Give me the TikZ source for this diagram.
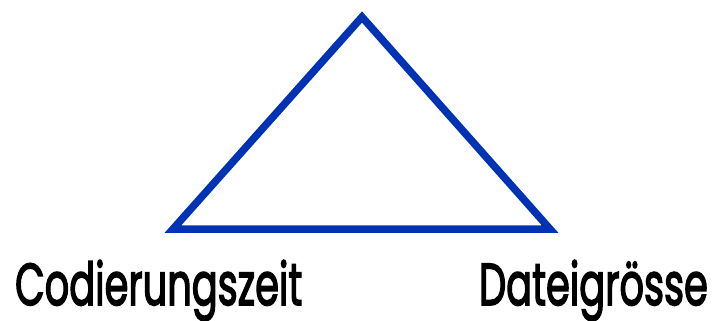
\documentclass[tikz,border=0pt]{standalone}
\usepackage{fontspec}
\setmainfont{Poppins}
\newfontfamily\labelfont{Poppins}[FakeBold=3]
\usetikzlibrary{positioning}
\definecolor{triblue}{HTML}{0033B3}

\begin{document}
\begin{tikzpicture}[
  x=1pt, y=-1pt,
  side/.style={draw=triblue, line width=7.5pt, line join=miter},
  label/.style={inner sep=0pt, text depth=0pt, font=\fontsize{59}{61}\labelfont, xscale=0.65}
]
\useasboundingbox (0,0) rectangle (713,321);
\coordinate (top) at (362,17);
\coordinate (left) at (173,229);
\coordinate (right) at (550,229);
\draw[side] (top) -- (left) -- (right) -- cycle;

\node[label, anchor=base west] (time) at (15,305) {Codierungszeit};
\node[label, anchor=base east] (size) at (708,305) {Dateigrösse};
\end{tikzpicture}
\end{document}
